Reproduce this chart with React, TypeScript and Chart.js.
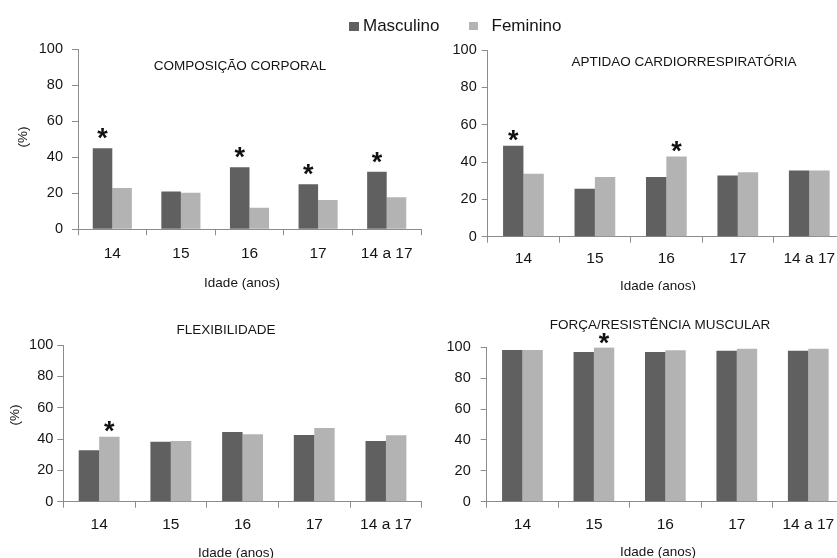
import React, { useEffect, useRef } from 'react';
import { Chart, registerables } from 'chart.js';

Chart.register(...registerables);

// ---------- DATA ----------
const categories = ['14', '15', '16', '17', '14 a 17'];
const seriesNames = ['Masculino', 'Feminino'];

const composicaoMasc = [45, 21, 34.5, 25, 32];
const composicaoFem = [23, 20.3, 12, 16.3, 17.8];
const composicaoSigMasc = [true, false, true, true, true];
const composicaoSigFem = [false, false, false, false, false];

const aptidaoMasc = [48.7, 25.7, 32, 32.8, 35.5];
const aptidaoFem = [33.7, 32, 43, 34.5, 35.5];
const aptidaoSigMasc = [true, false, false, false, false];
const aptidaoSigFem = [false, false, true, false, false];

const flexMasc = [32.8, 38.3, 44.5, 42.6, 38.7];
const flexFem = [41.5, 38.7, 43, 47, 42.4];
const flexSigMasc = [false, false, false, false, false];
const flexSigFem = [true, false, false, false, false];

const forcaMasc = [98.3, 97, 97, 97.7, 97.7];
const forcaFem = [98.3, 99.8, 98.1, 99, 99];
const forcaSigMasc = [false, false, false, false, false];
const forcaSigFem = [false, true, false, false, false];

const yTickValues = [0, 20, 40, 60, 80, 100];

// ---------- STYLE / LAYOUT ----------
const FONT = '"Liberation Sans", Arial, Helvetica, sans-serif';
const MALE_COLOR = '#606060';
const FEMALE_COLOR = '#b3b3b3';
const AXIS_COLOR = '#8c8c8c';
const TEXT_COLOR = '#151515';

type Panel = {
  title: string;
  male: number[];
  female: number[];
  sigMale: boolean[];
  sigFemale: boolean[];
  left: number;
  top: number;
  width: number;
  height: number;
  area: { left: number; right: number; top: number; bottom: number };
  titlePos: [number, number];
  xTitlePos: [number, number];
  yTitlePos: [number, number] | null;
  yTickPad: number;
  xTickPad: number;
  starGap: number;
};

const panels: Panel[] = [
  {
    title: 'COMPOSIÇÃO CORPORAL',
    male: composicaoMasc,
    female: composicaoFem,
    sigMale: composicaoSigMasc,
    sigFemale: composicaoSigFem,
    left: 0, top: 0, width: 430, height: 290,
    area: { left: 78, right: 421, top: 49.3, bottom: 229.3 },
    titlePos: [240, 66],
    xTitlePos: [242, 283],
    yTitlePos: [23, 137],
    yTickPad: 9, xTickPad: 9, starGap: 14.5,
  },
  {
    title: 'APTIDAO CARDIORRESPIRATÓRIA',
    male: aptidaoMasc,
    female: aptidaoFem,
    sigMale: aptidaoSigMasc,
    sigFemale: aptidaoSigFem,
    left: 430, top: 0, width: 430, height: 290,
    area: { left: 57.7, right: 415, top: 50, bottom: 236.7 },
    titlePos: [684, 62],
    xTitlePos: [658, 286],
    yTitlePos: null,
    yTickPad: 5, xTickPad: 7, starGap: 10,
  },
  {
    title: 'FLEXIBILIDADE',
    male: flexMasc,
    female: flexFem,
    sigMale: flexSigMasc,
    sigFemale: flexSigFem,
    left: 0, top: 290, width: 430, height: 268,
    area: { left: 63.3, right: 421.8, top: 55, bottom: 211.7 },
    titlePos: [226, 330],
    xTitlePos: [236, 553],
    yTitlePos: [15, 415],
    yTickPad: 4, xTickPad: 8, starGap: 10,
  },
  {
    title: 'FORÇA/RESISTÊNCIA MUSCULAR',
    male: forcaMasc,
    female: forcaFem,
    sigMale: forcaSigMasc,
    sigFemale: forcaSigFem,
    left: 430, top: 290, width: 430, height: 268,
    area: { left: 56.7, right: 414, top: 57.3, bottom: 211.7 },
    titlePos: [660, 325],
    xTitlePos: [658, 552],
    yTitlePos: null,
    yTickPad: 10, xTickPad: 8, starGap: 9,
  },
];

function makeTextPlugin(p: Panel) {
  return {
    id: 'panelTexts',
    afterDatasetsDraw(chart: any) {
      const ctx: CanvasRenderingContext2D = chart.ctx;
      // significance asterisks
      const sigs = [p.sigMale, p.sigFemale];
      ctx.save();
      ctx.font = `bold 27px ${FONT}`;
      ctx.fillStyle = '#111';
      ctx.textAlign = 'center';
      ctx.textBaseline = 'alphabetic';
      const m = ctx.measureText('*');
      const offset = (m.actualBoundingBoxDescent - m.actualBoundingBoxAscent) / 2;
      sigs.forEach((sig, di) => {
        const meta = chart.getDatasetMeta(di);
        sig.forEach((s, i) => {
          if (!s) return;
          const el = meta.data[i];
          const cy = el.y - p.starGap;
          ctx.fillText('*', el.x, cy - offset);
        });
      });
      ctx.restore();
    },
    afterDraw(chart: any) {
      const ctx: CanvasRenderingContext2D = chart.ctx;
      const items: { text: string; x: number; y: number; size: number; rot: number }[] = [
        { text: p.title, x: p.titlePos[0], y: p.titlePos[1], size: 13.5, rot: 0 },
        { text: 'Idade (anos)', x: p.xTitlePos[0], y: p.xTitlePos[1], size: 13.5, rot: 0 },
      ];
      if (p.yTitlePos) items.push({ text: '(%)', x: p.yTitlePos[0], y: p.yTitlePos[1], size: 13.5, rot: -Math.PI / 2 });
      items.forEach((t) => {
        ctx.save();
        ctx.font = `${t.size}px ${FONT}`;
        ctx.fillStyle = TEXT_COLOR;
        ctx.textAlign = 'center';
        ctx.textBaseline = 'middle';
        ctx.translate(t.x - p.left, t.y - p.top);
        if (t.rot) ctx.rotate(t.rot);
        ctx.fillText(t.text, 0, 0);
        ctx.restore();
      });
    },
  };
}

function PanelChart({ p }: { p: Panel }) {
  const ref = useRef<HTMLCanvasElement>(null);
  useEffect(() => {
    if (!ref.current) return;
    const chart = new Chart(ref.current, {
      type: 'bar',
      data: {
        labels: categories,
        datasets: [
          {
            label: seriesNames[0],
            data: p.male,
            backgroundColor: MALE_COLOR,
            borderWidth: 0,
            categoryPercentage: 0.57,
            barPercentage: 1,
          },
          {
            label: seriesNames[1],
            data: p.female,
            backgroundColor: FEMALE_COLOR,
            borderWidth: 0,
            categoryPercentage: 0.57,
            barPercentage: 1,
          },
        ],
      },
      options: {
        responsive: false,
        animation: false,
        devicePixelRatio: 1,
        layout: {
          padding: { left: 0, right: p.width - p.area.right, top: p.area.top, bottom: 0 },
        },
        plugins: {
          legend: { display: false },
          title: { display: false },
          tooltip: { enabled: false },
        },
        scales: {
          x: {
            type: 'category',
            offset: true,
            grid: {
              display: true,
              offset: true,
              drawOnChartArea: false,
              drawTicks: true,
              tickLength: 6,
              color: AXIS_COLOR,
              lineWidth: 1,
            },
            border: { display: true, color: AXIS_COLOR, width: 1 },
            ticks: {
              font: { family: FONT, size: 15.5 },
              color: TEXT_COLOR,
              padding: p.xTickPad,
              autoSkip: false,
              maxRotation: 0,
            },
            afterFit: (s: any) => {
              s.height = p.height - p.area.bottom;
            },
          },
          y: {
            type: 'linear',
            min: yTickValues[0],
            max: yTickValues[yTickValues.length - 1],
            afterBuildTicks: (s: any) => {
              s.ticks = yTickValues.map((v) => ({ value: v }));
            },
            ticks: {
              font: { family: FONT, size: 14.5 },
              color: TEXT_COLOR,
              padding: p.yTickPad,
            },
            grid: {
              drawOnChartArea: false,
              drawTicks: true,
              tickLength: 6,
              color: AXIS_COLOR,
              lineWidth: 1,
            },
            border: { display: true, color: AXIS_COLOR, width: 1 },
            afterFit: (s: any) => {
              s.width = p.area.left;
            },
          },
        },
      } as any,
      plugins: [makeTextPlugin(p)],
    });
    return () => chart.destroy();
  }, [p]);
  return (
    <canvas
      ref={ref}
      width={p.width}
      height={p.height}
      style={{ position: 'absolute', left: p.left, top: p.top, width: p.width, height: p.height }}
    />
  );
}

export default function App() {
  const legendText: React.CSSProperties = {
    position: 'absolute',
    fontFamily: FONT,
    fontSize: 17,
    lineHeight: '17px',
    color: TEXT_COLOR,
    whiteSpace: 'nowrap',
  };
  return (
    <div
      style={{
        position: 'absolute',
        left: 0,
        top: 0,
        width: 837,
        height: 558,
        overflow: 'hidden',
        background: '#ffffff',
      }}
    >
      {panels.map((p, i) => (
        <PanelChart key={i} p={p} />
      ))}
      <div style={{ position: 'absolute', left: 349, top: 22, width: 10, height: 9, background: MALE_COLOR }} />
      <div style={{ ...legendText, left: 363, top: 17 }}>{seriesNames[0]}</div>
      <div style={{ position: 'absolute', left: 469, top: 22, width: 9, height: 8, background: FEMALE_COLOR }} />
      <div style={{ ...legendText, left: 491.5, top: 17 }}>{seriesNames[1]}</div>
    </div>
  );
}
